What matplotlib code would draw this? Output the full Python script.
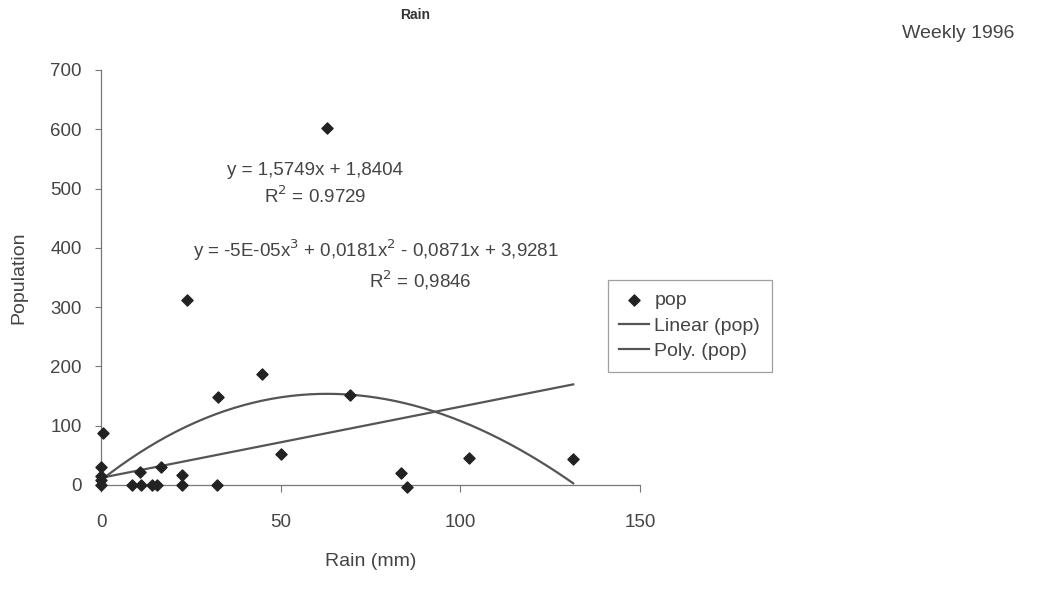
import numpy as np
import matplotlib.pyplot as plt

plt.rcParams['font.family'] = ['Liberation Sans', 'DejaVu Sans']

rain = [0.5, 0, 0, 0, 0, 8.6, 10.9, 11, 14.2, 15.6, 16.7, 22.5, 22.5,
        23.9, 32.6, 32.3, 44.8, 50.0, 62.9, 69.3, 83.5, 85.2, 102.4, 131.4]
pop = [88, 30, 15, 8, 0, 0, 22, 0, 0, 0, 30, 17, 0,
       312, 148, 0, 187, 53, 602, 152, 20, -4, 46, 44]

# trend lines as drawn on the chart
lin_coef = [1.2, 12.0]
poly_coef = [3.5e-5, -0.0412, 4.77, 8.0]

# trend labels as printed on the chart
eq_lin = "y = 1,5749x + 1,8404"
r2_lin = "R$^2$ = 0.9729"
eq_poly = "y = -5E-05x$^3$ + 0,0181x$^2$ - 0,0871x + 3,9281"
r2_poly = "R$^2$ = 0,9846"

xticks = [0, 50, 100, 150]
yticks = [0, 100, 200, 300, 400, 500, 600, 700]

txt = '#444444'
fig = plt.figure(figsize=(10.6, 5.98), dpi=100)
ax = fig.add_axes([0.0953, 0.189, 0.5085, 0.694])

xs = np.linspace(0, max(rain), 200)
ax.scatter(rain, pop, marker='D', s=32, color='#222222', zorder=3,
           clip_on=False, label='pop')
ax.plot(xs, np.polyval(lin_coef, xs), color='#555555', lw=1.6,
        label='Linear (pop)')
ax.plot(xs, np.polyval(poly_coef, xs), color='#555555', lw=1.6,
        label='Poly. (pop)')

ax.set_xlim(0, 150)
ax.set_ylim(0, 700)
ax.set_xticks(xticks)
ax.set_yticks(yticks)
for s in ['top', 'right']:
    ax.spines[s].set_visible(False)
for s in ['left', 'bottom']:
    ax.spines[s].set_color('#777777')
    ax.spines[s].set_linewidth(0.9)
ax.tick_params(axis='y', direction='out', length=4, pad=10, colors='#777777',
               labelcolor=txt, labelsize=13.5)
ax.tick_params(axis='x', direction='out', length=5, pad=16, colors='#777777',
               labelcolor=txt, labelsize=13.5)

ax.text(59.6, 531, eq_lin, ha='center', va='center', fontsize=13.5, color=txt)
ax.text(59.6, 487, r2_lin, ha='center', va='center', fontsize=13.5, color=txt)
ax.text(76.5, 396, eq_poly, ha='center', va='center', fontsize=13.5, color=txt)
ax.text(88.8, 346, r2_poly, ha='center', va='center', fontsize=13.5, color=txt)

ax.set_xlabel('Rain (mm)', fontsize=14, color=txt, labelpad=16)
ax.set_ylabel('Population', fontsize=14, color=txt, labelpad=16)

leg = ax.legend(loc='upper left', bbox_to_anchor=(0.94, 0.494), fontsize=14,
                frameon=True, fancybox=False, handlelength=1.5,
                borderpad=0.6, labelspacing=0.4, handletextpad=0.3,
                borderaxespad=0)
leg.get_frame().set_edgecolor('#888888')
leg.get_frame().set_linewidth(0.9)
for t in leg.get_texts():
    t.set_color(txt)

fig.text(415 / 1060, 1 - 15 / 598, 'Rain', ha='center', va='center',
         fontsize=10, fontweight='bold', color='#333333')
fig.text(958 / 1060, 1 - 33 / 598, 'Weekly 1996', ha='center', va='center',
         fontsize=14, color=txt)

fig.savefig('out.png', dpi=100)
